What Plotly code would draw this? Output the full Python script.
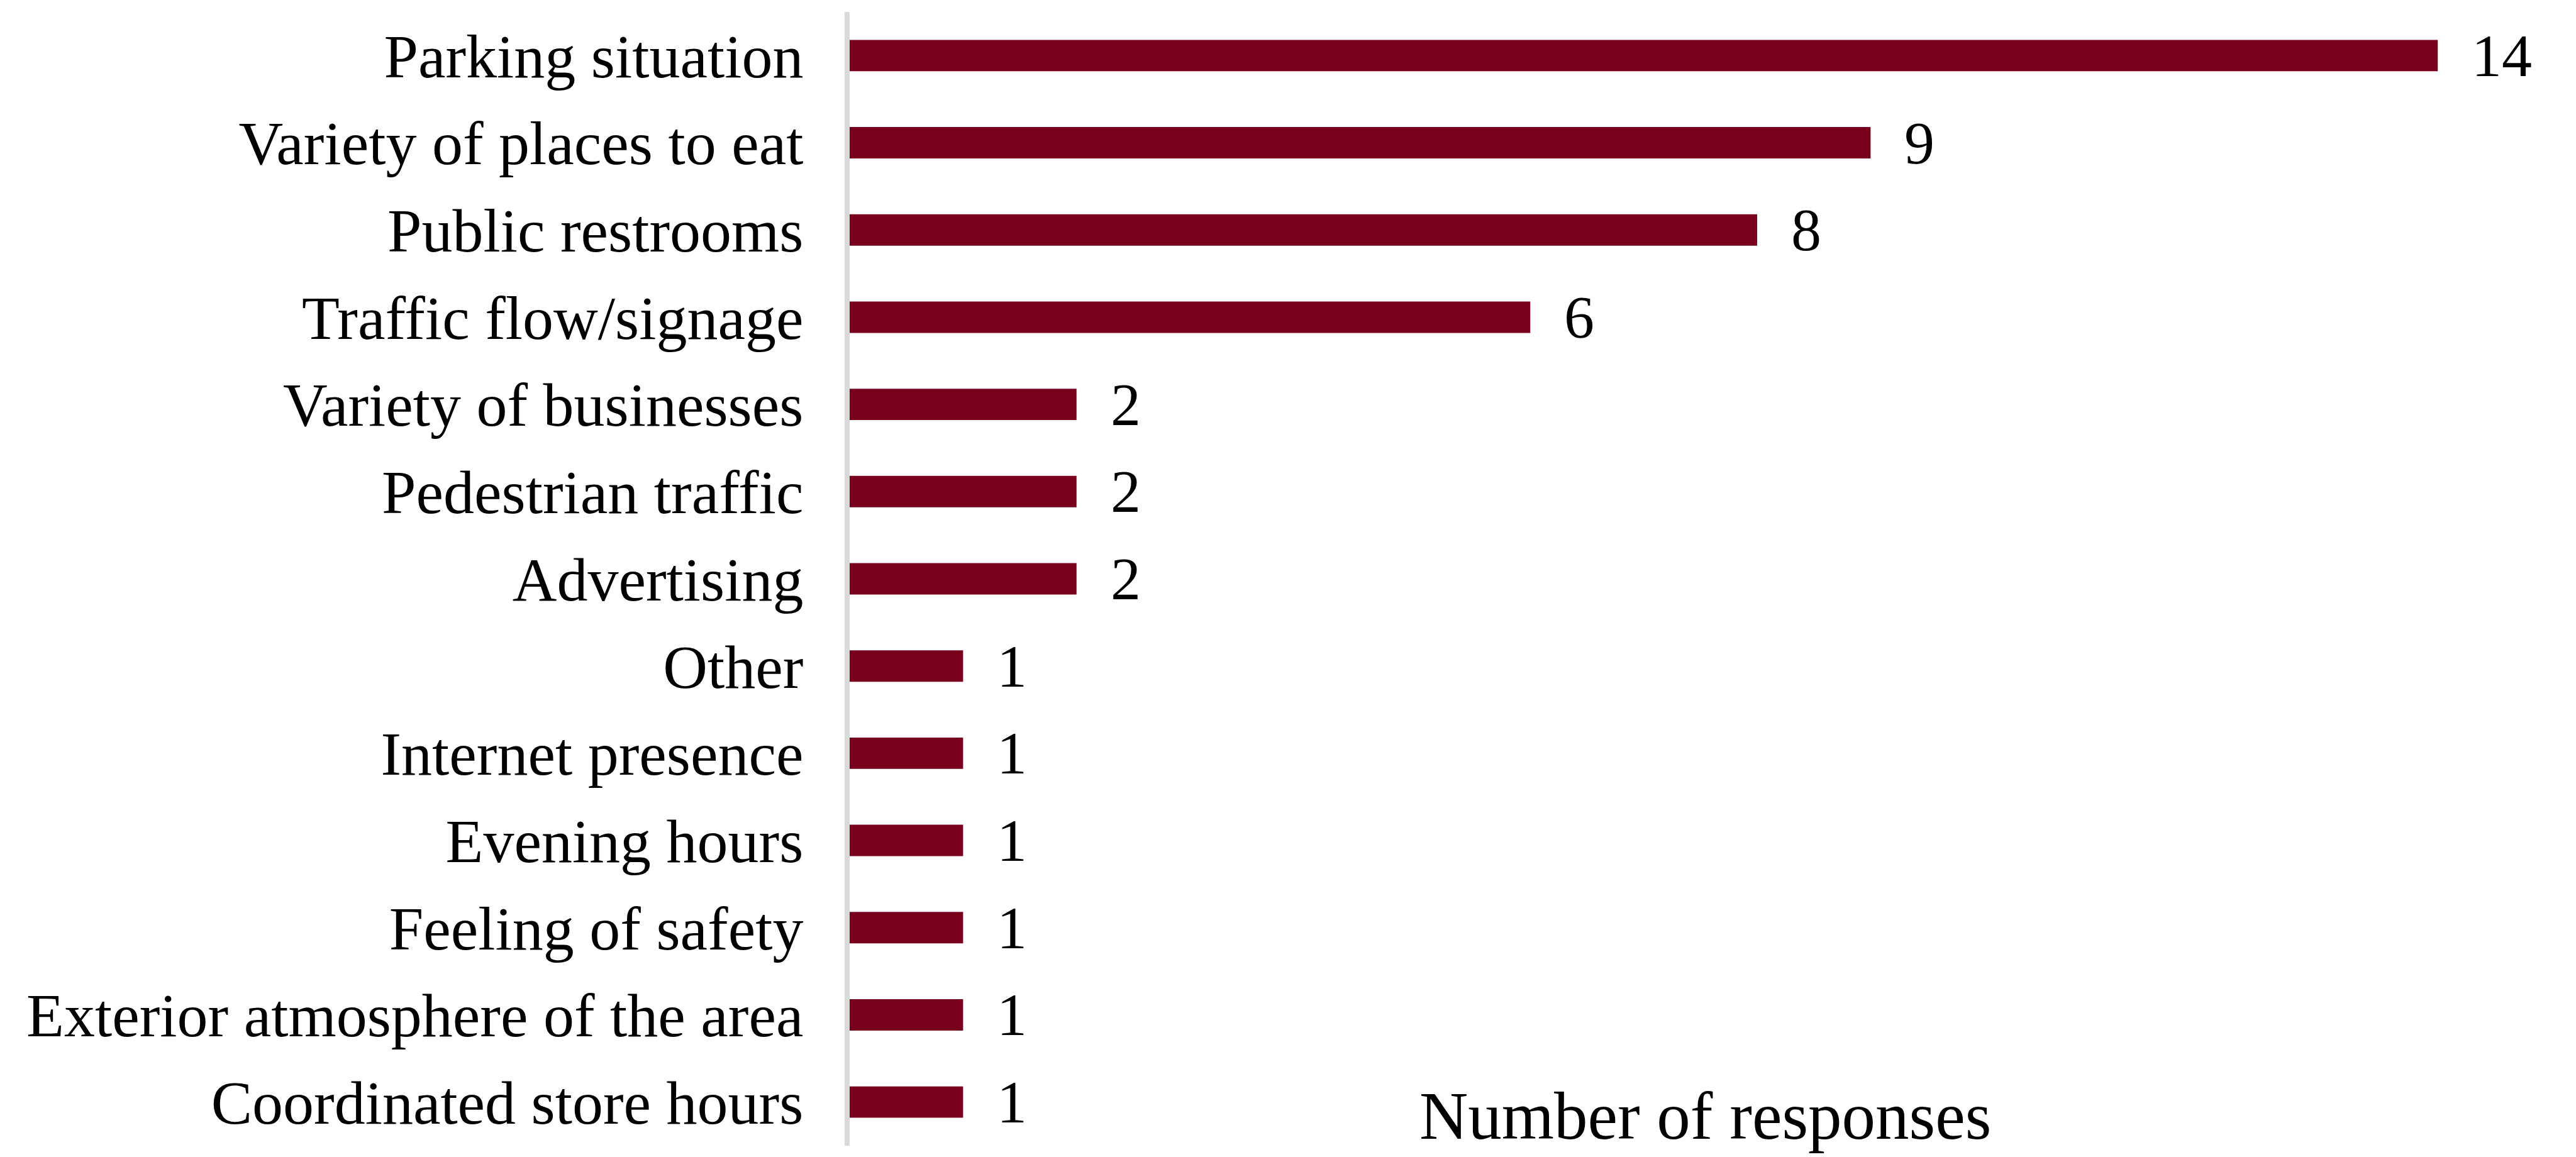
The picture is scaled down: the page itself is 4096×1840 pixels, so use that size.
import plotly.graph_objects as go

# Survey results: aspects respondents would improve, top to bottom
categories = [
    "Parking situation",
    "Variety of places to eat",
    "Public restrooms",
    "Traffic flow/signage",
    "Variety of businesses",
    "Pedestrian traffic",
    "Advertising",
    "Other",
    "Internet presence",
    "Evening hours",
    "Feeling of safety",
    "Exterior atmosphere of the area",
    "Coordinated store hours",
]
responses = [14, 9, 8, 6, 2, 2, 2, 1, 1, 1, 1, 1, 1]
axis_title = "Number of responses"

W, H = 4096, 1840
BAR_COLOR = "#78001C"
FONT = "Liberation Serif"
LABEL_SIZE = 98
VALUE_SIZE = 96
TITLE_SIZE = 107

fig = go.Figure(
    go.Bar(
        x=responses,
        y=categories,
        orientation="h",
        marker=dict(color=BAR_COLOR, line=dict(width=0)),
        width=0.36,
        hoverinfo="skip",
    )
)

# value labels just past the end of each bar
for cat, val in zip(categories, responses):
    fig.add_annotation(
        x=val, y=cat, xref="x", yref="y",
        text=str(val), showarrow=False,
        xanchor="left", yanchor="middle", xshift=52,
        font=dict(family=FONT, size=VALUE_SIZE, color="#000000"),
    )

fig.add_annotation(
    x=0.5, y=0, xref="paper", yref="paper",
    text=axis_title, showarrow=False,
    xanchor="center", yanchor="bottom", yshift=-14,
    font=dict(family=FONT, size=TITLE_SIZE, color="#000000"),
)

fig.update_layout(
    width=W, height=H,
    margin=dict(l=1351, r=25, t=19, b=18),
    paper_bgcolor="white", plot_bgcolor="white",
    showlegend=False,
    xaxis=dict(
        range=[0, 15.08], visible=False, showgrid=False, zeroline=False,
    ),
    yaxis=dict(
        categoryorder="array", categoryarray=categories,
        range=[12.5, -0.5],
        showline=True, linecolor="#D9D9D9", linewidth=8,
        showgrid=False, zeroline=False, ticks="",
        ticklabelstandoff=46,
        tickfont=dict(family=FONT, size=LABEL_SIZE, color="#000000"),
    ),
)

fig.write_html("out.html")
